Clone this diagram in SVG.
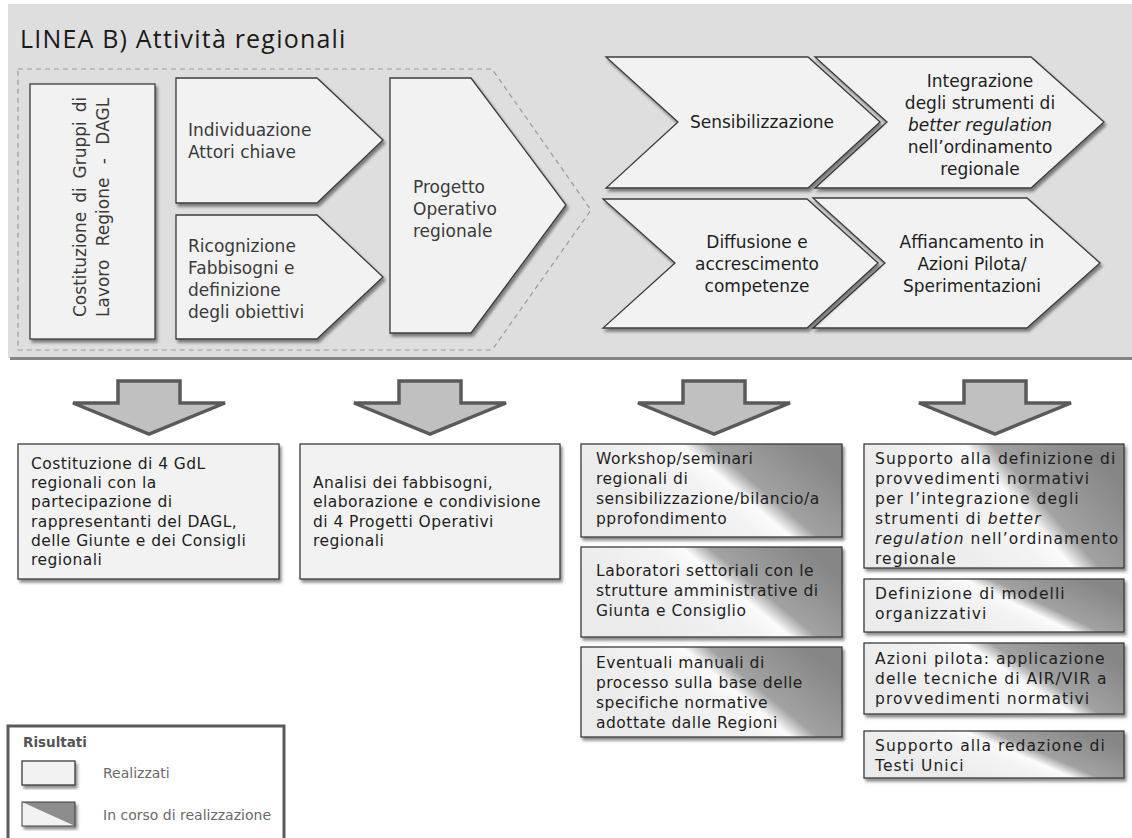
<svg xmlns="http://www.w3.org/2000/svg" width="1132" height="838" viewBox="0 0 1132 838">
  <defs>
    <filter id="shadow" x="-10%" y="-10%" width="130%" height="130%">
      <feDropShadow dx="2" dy="3" stdDeviation="1.6" flood-color="#000" flood-opacity="0.45"/>
    </filter>
    <!-- "in progress" fill: light lower-left, dark upper-right -->
    <linearGradient id="progress" x1="0.2" y1="0.68" x2="1" y2="0.345">
      <stop offset="0" stop-color="#ebebeb"/>
      <stop offset="0.38" stop-color="#f3f3f3"/>
      <stop offset="0.5" stop-color="#fbfbfb"/>
      <stop offset="0.61" stop-color="#a2a2a2"/>
      <stop offset="1" stop-color="#868686"/>
    </linearGradient>
    <style>
      .shape { fill: #f2f2f2; stroke: #3c3c3c; stroke-width: 1.3; filter: url(#shadow); }
      .prog { fill: url(#progress); stroke: #3c3c3c; stroke-width: 1.3; filter: url(#shadow); }
      .arrow { fill: #c0c0c0; stroke: #5a5a5a; stroke-width: 3.5; stroke-linejoin: miter; }
      .chev { font-family: "DejaVu Sans", Verdana, sans-serif; font-size: 17px; fill: #3a3a3a; }
      .chevR { font-family: "DejaVu Sans", Verdana, sans-serif; font-size: 17px; fill: #1e1e1e; text-anchor: middle; }
      .box { font-family: "DejaVu Sans", Verdana, sans-serif; font-size: 15.5px; fill: #1e1e1e; letter-spacing: 0.45px; }
      .boxM { font-family: "DejaVu Sans", Verdana, sans-serif; font-size: 15.5px; fill: #1e1e1e; letter-spacing: 0.5px; }
      .boxR { font-family: "DejaVu Sans", Verdana, sans-serif; font-size: 15.5px; fill: #1e1e1e; letter-spacing: 1.05px; }
      .title { font-family: "Open Sans", "DejaVu Sans", sans-serif; font-size: 25px; fill: #1a1a1a; letter-spacing: 1.2px; }
      .leg { font-family: "DejaVu Sans", Verdana, sans-serif; font-size: 14px; fill: #6a6a6a; }
      .legT { font-family: "DejaVu Sans", Verdana, sans-serif; font-size: 13.5px; font-weight: bold; fill: #555; }
    </style>
  </defs>

  <!-- activity panel -->
  <g id="panel">
    <rect x="8" y="4" width="1124" height="354" fill="#dedede"/>
    <rect x="10" y="357" width="1122" height="3" fill="#858585"/>
    <text class="title" x="20" y="48">LINEA B) Attività regionali</text>
    <path d="M18,69 L492,69 L591,210 L492,350 L18,350 Z" fill="none" stroke="#9a9a9a" stroke-width="1.2" stroke-dasharray="5,4"/>
  </g>

  <g id="costituzione-gruppi">
    <rect class="shape" x="30" y="84" width="125" height="255"/>
    <text class="chev" font-size="16px" transform="translate(86,317) rotate(-90)" word-spacing="3.5px">Costituzione di Gruppi di</text>
    <text class="chev" font-size="16px" transform="translate(109,317) rotate(-90)" word-spacing="8px">Lavoro Regione - DAGL</text>
  </g>

  <g id="individuazione">
    <path class="shape" d="M176,78 L317,78 L383,140 L317,203 L176,203 Z"/>
    <text class="chev" x="188" y="136">Individuazione</text>
    <text class="chev" x="188" y="158">Attori chiave</text>
  </g>

  <g id="ricognizione">
    <path class="shape" d="M176,215 L317,215 L383,277 L317,339 L176,339 Z"/>
    <text class="chev" x="188" y="252">Ricognizione</text>
    <text class="chev" x="188" y="274">Fabbisogni e</text>
    <text class="chev" x="188" y="296">definizione</text>
    <text class="chev" x="188" y="318">degli obiettivi</text>
  </g>

  <g id="progetto-operativo">
    <path class="shape" d="M390,78 L471,78 L566,205 L471,333 L390,333 Z"/>
    <text class="chev" x="413" y="193">Progetto</text>
    <text class="chev" x="413" y="215">Operativo</text>
    <text class="chev" x="413" y="237">regionale</text>
  </g>

  <g id="integrazione">
    <path class="shape" d="M815,57 L1031,57 L1104,122 L1031,188 L815,188 L887,122 Z"/>
    <text class="chevR" x="980" y="87">Integrazione</text>
    <text class="chevR" x="980" y="109">degli strumenti di</text>
    <text class="chevR" x="980" y="131" font-style="italic">better regulation</text>
    <text class="chevR" x="980" y="153">nell’ordinamento</text>
    <text class="chevR" x="980" y="175">regionale</text>
  </g>

  <g id="sensibilizzazione">
    <path class="shape" d="M606,57 L808,57 L880,122 L808,188 L606,188 L678,122 Z"/>
    <text class="chevR" x="762" y="128">Sensibilizzazione</text>
  </g>

  <g id="affiancamento">
    <path class="shape" d="M813,198 L1027,198 L1100,263 L1027,328 L813,328 L885,263 Z"/>
    <text class="chevR" x="972" y="248">Affiancamento in</text>
    <text class="chevR" x="972" y="270">Azioni Pilota/</text>
    <text class="chevR" x="972" y="292">Sperimentazioni</text>
  </g>

  <g id="diffusione">
    <path class="shape" d="M603,199 L807,199 L878,263 L807,328 L603,328 L675,263 Z"/>
    <text class="chevR" x="757" y="248">Diffusione e</text>
    <text class="chevR" x="757" y="270">accrescimento</text>
    <text class="chevR" x="757" y="292">competenze</text>
  </g>

  <!-- block arrows from activities to results -->
  <g id="connectors">
    <path class="arrow" d="M118,381 L180,381 L180,403 L225,403 L149,434 L73,403 L118,403 Z"/>
    <path class="arrow" d="M399,381 L461,381 L461,403 L506,403 L430,434 L354,403 L399,403 Z"/>
    <path class="arrow" d="M683,381 L745,381 L745,403 L790,403 L714,434 L638,403 L683,403 Z"/>
    <path class="arrow" d="M964,381 L1026,381 L1026,403 L1071,403 L995,434 L919,403 L964,403 Z"/>
  </g>

  <g id="risultato-gdl">
    <rect class="shape" x="18" y="444" width="261" height="135"/>
    <text class="box" x="31" y="469">Costituzione di 4 GdL</text>
    <text class="box" x="31" y="488">regionali con la</text>
    <text class="box" x="31" y="507">partecipazione di</text>
    <text class="box" x="31" y="527">rappresentanti del DAGL,</text>
    <text class="box" x="31" y="546">delle Giunte e dei Consigli</text>
    <text class="box" x="31" y="565">regionali</text>
  </g>

  <g id="risultato-progetti">
    <rect class="shape" x="300" y="444" width="260" height="135"/>
    <text class="box" x="313" y="488">Analisi dei fabbisogni,</text>
    <text class="box" x="313" y="507">elaborazione e condivisione</text>
    <text class="box" x="313" y="527">di 4 Progetti Operativi</text>
    <text class="box" x="313" y="546">regionali</text>
  </g>

  <g id="risultato-workshop">
    <rect class="prog" x="581" y="444" width="261" height="93"/>
    <text class="boxM" x="596" y="464">Workshop/seminari</text>
    <text class="boxM" x="596" y="484">regionali di</text>
    <text class="boxM" x="596" y="504">sensibilizzazione/bilancio/a</text>
    <text class="boxM" x="596" y="524">pprofondimento</text>
  </g>

  <g id="risultato-laboratori">
    <rect class="prog" x="581" y="547" width="261" height="90"/>
    <text class="boxM" x="596" y="576">Laboratori settoriali con le</text>
    <text class="boxM" x="596" y="596">strutture amministrative di</text>
    <text class="boxM" x="596" y="616">Giunta e Consiglio</text>
  </g>

  <g id="risultato-manuali">
    <rect class="prog" x="581" y="647" width="261" height="90"/>
    <text class="boxM" x="596" y="668">Eventuali manuali di</text>
    <text class="boxM" x="596" y="688">processo sulla base delle</text>
    <text class="boxM" x="596" y="708">specifiche normative</text>
    <text class="boxM" x="596" y="728">adottate dalle Regioni</text>
  </g>

  <g id="risultato-provvedimenti">
    <rect class="prog" x="864" y="444" width="260" height="124"/>
    <text class="boxR" x="875" y="464">Supporto alla definizione di</text>
    <text class="boxR" x="875" y="484">provvedimenti normativi</text>
    <text class="boxR" x="875" y="504">per l’integrazione degli</text>
    <text class="boxR" x="875" y="524">strumenti di <tspan font-style="italic">better</tspan></text>
    <text class="boxR" x="875" y="544"><tspan font-style="italic">regulation</tspan> nell’ordinamento</text>
    <text class="boxR" x="875" y="564">regionale</text>
  </g>

  <g id="risultato-modelli">
    <rect class="prog" x="864" y="579" width="260" height="53"/>
    <text class="boxR" x="875" y="599">Definizione di modelli</text>
    <text class="boxR" x="875" y="619">organizzativi</text>
  </g>

  <g id="risultato-azioni-pilota">
    <rect class="prog" x="864" y="643" width="260" height="71"/>
    <text class="boxR" x="875" y="664">Azioni pilota: applicazione</text>
    <text class="boxR" x="875" y="684">delle tecniche di AIR/VIR a</text>
    <text class="boxR" x="875" y="704">provvedimenti normativi</text>
  </g>

  <g id="risultato-testi-unici">
    <rect class="prog" x="864" y="731" width="260" height="47"/>
    <text class="boxR" x="875" y="751">Supporto alla redazione di</text>
    <text class="boxR" x="875" y="771">Testi Unici</text>
  </g>

  <g id="legenda">
    <rect x="8" y="726" width="276" height="130" fill="#fff" stroke="#5a5a5a" stroke-width="3"/>
    <text class="legT" x="23" y="747">Risultati</text>
    <rect class="shape" x="22" y="761" width="53" height="24" stroke-width="1"/>
    <text class="leg" x="103" y="778">Realizzati</text>
    <g filter="url(#shadow)">
      <rect x="22" y="802" width="53" height="24" fill="#f2f2f2"/>
      <path d="M22,802 L75,802 L75,826 Z" fill="#8c8c8c"/>
      <rect x="22" y="802" width="53" height="24" fill="none" stroke="#3c3c3c" stroke-width="1"/>
    </g>
    <text class="leg" x="103" y="820">In corso di realizzazione</text>
  </g>
</svg>
